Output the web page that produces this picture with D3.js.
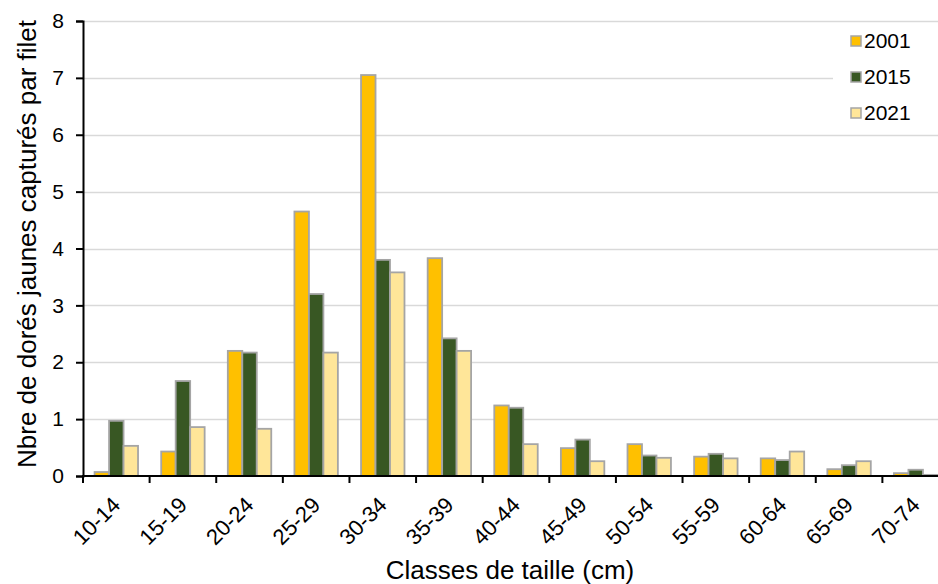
<!DOCTYPE html>
<html>
<head>
<meta charset="utf-8">
<script src="https://cdn.jsdelivr.net/npm/d3@7"></script>
<style>
  html, body { margin: 0; padding: 0; background: #fff; }
  svg { display: block; font-family: Arial, "Liberation Sans", sans-serif; }
</style>
</head>
<body>
<svg id="chart" width="938" height="584"></svg>
<script>
// Size classes (cm)
const categories = ["10-14","15-19","20-24","25-29","30-34","35-39","40-44","45-49","50-54","55-59","60-64","65-69","70-74"];
const seriesNames = ["2001","2015","2021"];
// Walleye caught per net, by year
const values2001 = [0.07, 0.43, 2.20, 4.65, 7.05, 3.83, 1.24, 0.49, 0.56, 0.34, 0.31, 0.12, 0.05];
const values2015 = [0.97, 1.67, 2.17, 3.20, 3.80, 2.42, 1.20, 0.64, 0.36, 0.39, 0.28, 0.19, 0.11];
const values2021 = [0.53, 0.86, 0.83, 2.17, 3.58, 2.20, 0.56, 0.26, 0.32, 0.31, 0.43, 0.26, 0.02];
const yTicks = [0, 1, 2, 3, 4, 5, 6, 7, 8];
const colors = ["#FFC000", "#385723", "#FFE699"];

const seriesValues = [values2001, values2015, values2021];
const rows = categories.map((c, i) => ({
  cat: c,
  vals: seriesNames.map((s, j) => ({ key: s, value: seriesValues[j][i], color: colors[j] }))
}));

const svg = d3.select("#chart");
const plot = { left: 83, right: 949, top: 21, bottom: 476 };

const x0 = d3.scaleBand().domain(categories).range([plot.left, plot.right]).paddingInner(0).paddingOuter(0);
const x1 = d3.scaleBand().domain(seriesNames).range([0, x0.bandwidth()]).paddingInner(0).paddingOuter(0.8);
const y = d3.scaleLinear().domain([0, 8]).range([plot.bottom, plot.top]);

// horizontal gridlines
svg.append("g")
  .selectAll("line")
  .data(yTicks.filter(t => t > 0))
  .join("line")
  .attr("x1", plot.left).attr("x2", 938)
  .attr("y1", d => Math.round(y(d)) + 0.5).attr("y2", d => Math.round(y(d)) + 0.5)
  .attr("stroke", "#D9D9D9").attr("stroke-width", 1.5);

// bars
svg.append("g")
  .selectAll("g")
  .data(rows)
  .join("g")
  .attr("transform", d => `translate(${x0(d.cat)},0)`)
  .selectAll("rect")
  .data(d => d.vals)
  .join("rect")
  .attr("x", d => x1(d.key))
  .attr("y", d => y(d.value))
  .attr("width", x1.bandwidth())
  .attr("height", d => y(0) - y(d.value))
  .attr("fill", d => d.color)
  .attr("stroke", "#A5A5A5")
  .attr("stroke-width", 1.8);

// y axis
const yAxis = svg.append("g")
  .attr("transform", `translate(${plot.left},0)`)
  .call(d3.axisLeft(y).tickValues(yTicks).tickSize(7).tickPadding(12).tickFormat(d3.format("d")));
yAxis.select(".domain").attr("stroke", "#000").attr("stroke-width", 2);
yAxis.selectAll(".tick line").attr("stroke", "#000").attr("stroke-width", 2);
yAxis.selectAll(".tick text").attr("font-size", 21).attr("fill", "#000")
  .attr("font-family", "Arial, 'Liberation Sans', sans-serif");

// x axis: ticks on category boundaries
const xAxisG = svg.append("g").attr("transform", `translate(0,${plot.bottom})`);
xAxisG.append("line")
  .attr("x1", plot.left - 1).attr("x2", 938)
  .attr("y1", 0).attr("y2", 0)
  .attr("stroke", "#000").attr("stroke-width", 2);
const boundaries = categories.map(c => x0(c)).concat([x0(categories[categories.length - 1]) + x0.bandwidth()]);
xAxisG.selectAll("line.tk")
  .data(boundaries)
  .join("line")
  .attr("class", "tk")
  .attr("x1", d => d).attr("x2", d => d)
  .attr("y1", 0).attr("y2", 7)
  .attr("stroke", "#000").attr("stroke-width", 2);
xAxisG.selectAll("text.lbl")
  .data(categories)
  .join("text")
  .attr("class", "lbl")
  .attr("transform", d => `translate(${x0(d) + x0.bandwidth() / 2},${25}) rotate(-45)`)
  .attr("text-anchor", "end")
  .attr("dy", "0.35em")
  .attr("font-size", 22)
  .attr("fill", "#000")
  .text(d => d);

// axis titles
svg.append("text")
  .attr("x", 510).attr("y", 579)
  .attr("text-anchor", "middle")
  .attr("font-size", 26)
  .attr("fill", "#000")
  .text("Classes de taille (cm)");

svg.append("text")
  .attr("transform", `translate(27,244) rotate(-90)`)
  .attr("text-anchor", "middle")
  .attr("dy", "0.35em")
  .attr("font-size", 26)
  .attr("fill", "#000")
  .text("Nbre de dorés jaunes capturés par filet");

// legend
const legend = svg.append("g");
legend.append("rect")
  .attr("x", 833).attr("y", 23).attr("width", 105).attr("height", 106)
  .attr("fill", "#fff");
const li = legend.selectAll("g.item")
  .data(seriesNames.map((s, i) => ({ key: s, color: colors[i] })))
  .join("g")
  .attr("class", "item")
  .attr("transform", (d, i) => `translate(851,${41 + i * 36})`);
li.append("rect")
  .attr("x", 0).attr("y", -5).attr("width", 10).attr("height", 10)
  .attr("fill", d => d.color)
  .attr("stroke", "#A5A5A5").attr("stroke-width", 1.5);
li.append("text")
  .attr("x", 13).attr("y", 0).attr("dy", "0.35em")
  .attr("font-size", 21)
  .attr("fill", "#000")
  .text(d => d.key);
</script>
</body>
</html>
